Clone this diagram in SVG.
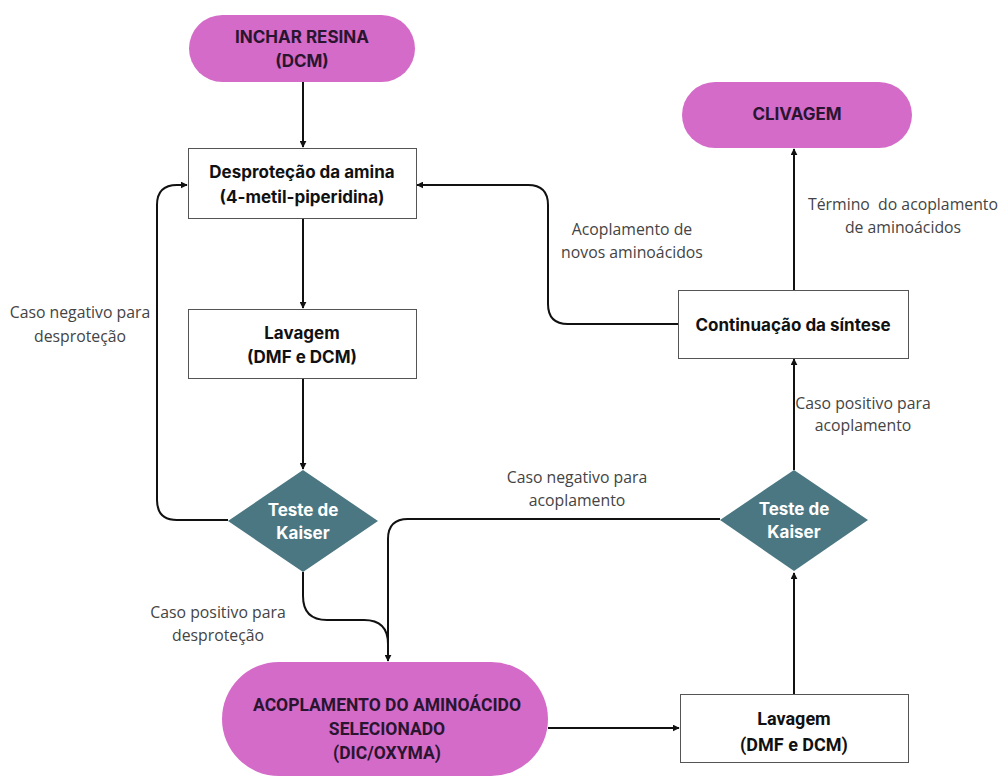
<svg xmlns="http://www.w3.org/2000/svg" width="1002" height="778" viewBox="0 0 1002 778">
<defs>
<marker id="ah" viewBox="0 0 10 10" refX="9" refY="5" markerWidth="7" markerHeight="7" markerUnits="userSpaceOnUse" orient="auto">
<path d="M0,0 L10,5 L0,10 Z" fill="#111"/>
</marker>
<style>
.pill{fill:#d46bc8;}
.box{fill:#fff;stroke:#555;stroke-width:1;}
.dia{fill:#4b7782;}
.t{font-family:Inter,Roboto,"Liberation Sans",sans-serif;font-weight:bold;font-size:17px;text-anchor:middle;fill:#111;}
.tp{font-family:Inter,Roboto,"Liberation Sans",sans-serif;font-weight:bold;font-size:17px;text-anchor:middle;fill:#2a1530;}
.tw{font-family:Inter,Roboto,"Liberation Sans",sans-serif;font-weight:bold;font-size:17px;text-anchor:middle;fill:#fff;}
.rb{font-family:Roboto,"Liberation Sans",sans-serif;font-size:17.5px;}
.rb2{font-family:Roboto,"Liberation Sans",sans-serif;font-size:18px;}
.lb{font-family:"Open Sans","Noto Sans",sans-serif;font-size:15.8px;text-anchor:middle;fill:#444;}
.c{fill:none;stroke:#111;stroke-width:2;}
</style>
</defs>
<rect width="1002" height="778" fill="#fff"/>
<g id="connectors">
<path class="c" d="M303,82 V147" marker-end="url(#ah)"/>
<path class="c" d="M303,218 V308" marker-end="url(#ah)"/>
<path class="c" d="M303,379 V469" marker-end="url(#ah)"/>
<path class="c" d="M228,520 H177 Q157,520 157,500 V205 Q157,185 177,185 H187" marker-end="url(#ah)"/>
<path class="c" d="M303,572 V596 Q303,620 327,620 H364 Q388,620 388,644"/>
<path class="c" d="M720,519 H408 Q388,519 388,539 V661" marker-end="url(#ah)"/>
<path class="c" d="M548,728 H679" marker-end="url(#ah)"/>
<path class="c" d="M794,694 V573" marker-end="url(#ah)"/>
<path class="c" d="M794,470 V359" marker-end="url(#ah)"/>
<path class="c" d="M678,324 H568 Q548,324 548,304 V205 Q548,185 528,185 H417" marker-end="url(#ah)"/>
<path class="c" d="M794,290 V149" marker-end="url(#ah)"/>
</g>
<g id="labels">
<text class="lb" x="80" y="318">Caso negativo para</text>
<text class="lb" x="80" y="342">desproteção</text>
<text class="lb" x="218" y="618">Caso positivo para</text>
<text class="lb" x="218" y="641">desproteção</text>
<text class="lb" x="577" y="483">Caso negativo para</text>
<text class="lb" x="577" y="506">acoplamento</text>
<text class="lb" x="863" y="409">Caso positivo para</text>
<text class="lb" x="863" y="431">acoplamento</text>
<text class="lb" x="632" y="235">Acoplamento de</text>
<text class="lb" x="632" y="258">novos aminoácidos</text>
<text class="lb" x="903" y="210" xml:space="preserve">Término  do acoplamento</text>
<text class="lb" x="903" y="233">de aminoácidos</text>
</g>
<g id="inchar">
<rect class="pill" x="189" y="15" width="226" height="67" rx="33.5"/>
<text class="tp" x="302" y="43">INCHAR RESINA</text>
<text class="tp" x="302" y="67">(DCM)</text>
</g>
<g id="desprotecao">
<rect class="box" x="188.5" y="148.5" width="228" height="70"/>
<text class="t" x="302" y="178">Desproteção da amina</text>
<text class="t" x="302" y="203">(4-metil-piperidina)</text>
</g>
<g id="lavagem1">
<rect class="box" x="188.5" y="309.5" width="228" height="69"/>
<text class="t" x="302" y="339">Lavagem</text>
<text class="t" x="302" y="363">(DMF e DCM)</text>
</g>
<g id="kaiser1">
<polygon class="dia" points="303,470 378,521 303,572 228,521"/>
<text class="tw" x="303" y="516">Teste de</text>
<text class="tw" x="303" y="539">Kaiser</text>
</g>
<g id="acoplamento">
<rect class="pill" x="222" y="662" width="326" height="114" rx="57"/>
<text class="tp rb" x="387" y="711">ACOPLAMENTO DO AMINOÁCIDO</text>
<text class="tp rb" x="387" y="735">SELECIONADO</text>
<text class="tp rb" x="387" y="759">(DIC/OXYMA)</text>
</g>
<g id="lavagem2">
<rect class="box" x="680.5" y="694.5" width="228" height="68"/>
<text class="t rb2" x="794" y="725">Lavagem</text>
<text class="t rb2" x="794" y="751">(DMF e DCM)</text>
</g>
<g id="kaiser2">
<polygon class="dia" points="794,470 868,520 794,571 720,520"/>
<text class="tw" x="794" y="515">Teste de</text>
<text class="tw" x="794" y="538">Kaiser</text>
</g>
<g id="continuacao">
<rect class="box" x="678.5" y="290.5" width="230" height="68"/>
<text class="t" x="793" y="331">Continuação da síntese</text>
</g>
<g id="clivagem">
<rect class="pill" x="682" y="82" width="230" height="66" rx="33"/>
<text class="tp" x="797" y="120">CLIVAGEM</text>
</g>
</svg>
